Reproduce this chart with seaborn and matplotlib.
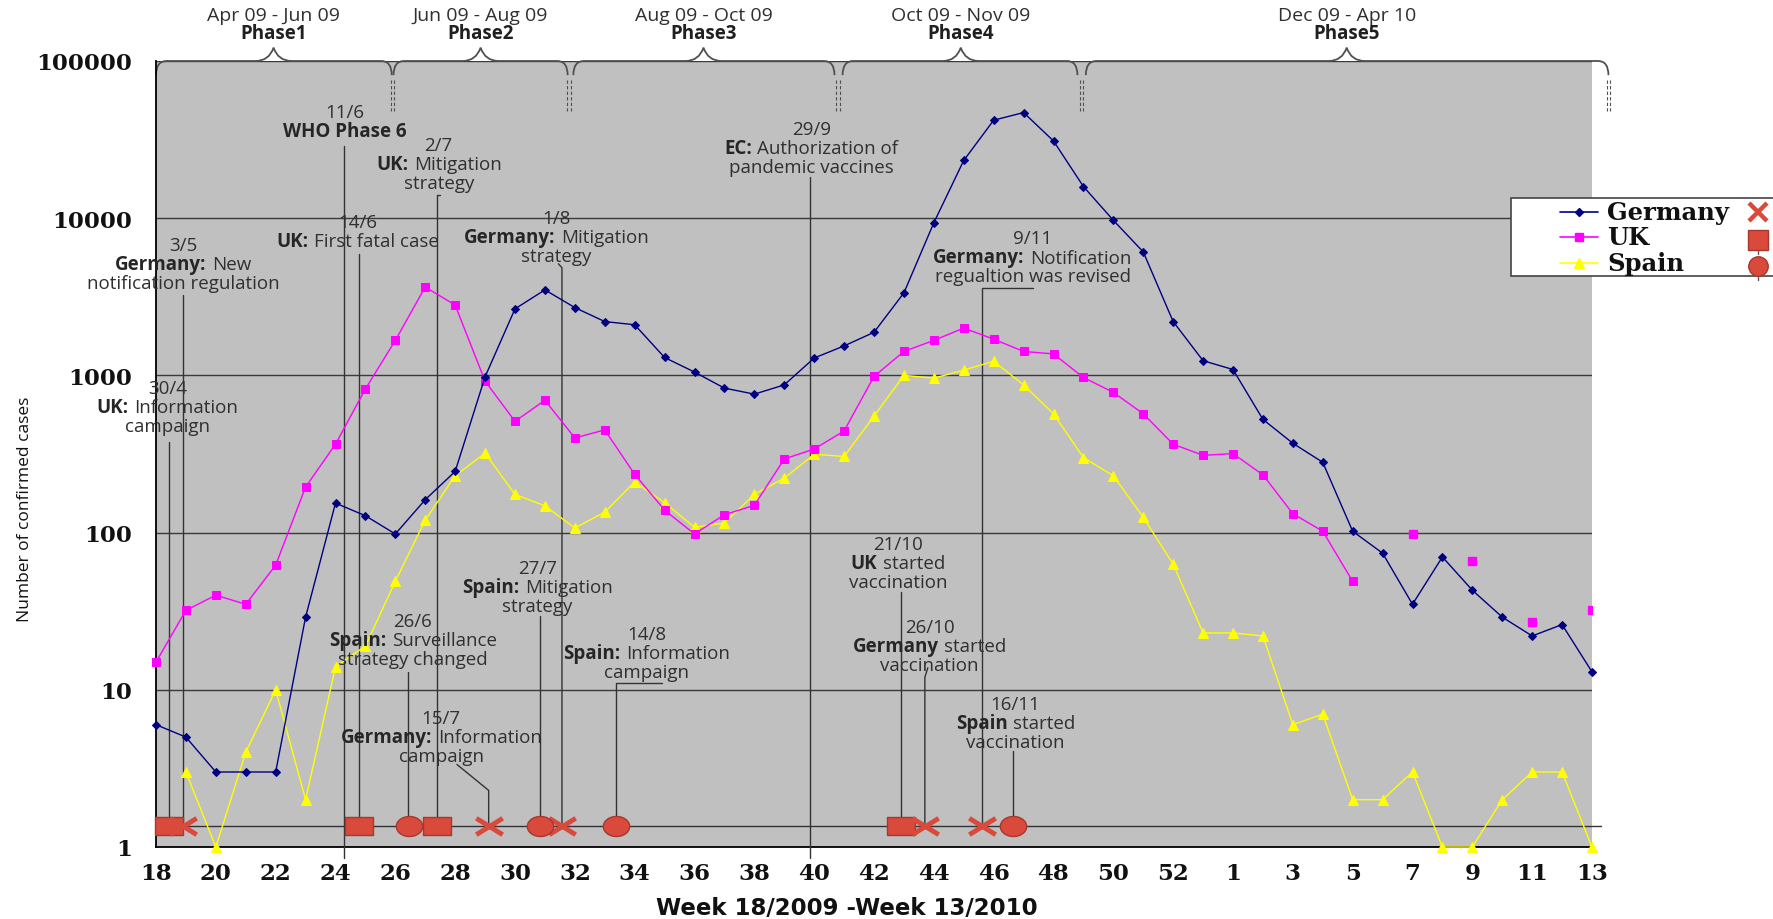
import numpy as np
import pandas as pd
import matplotlib
matplotlib.use("Agg")
import matplotlib.pyplot as plt
import seaborn as sns
from matplotlib.path import Path
from matplotlib.patches import PathPatch, Rectangle
from matplotlib.lines import Line2D
from matplotlib.font_manager import FontProperties
from matplotlib.offsetbox import TextArea, HPacker, VPacker, AnnotationBbox

# weekly confirmed cases, week 18/2009 .. week 13/2010 (2009 has 53 weeks)
weeks = list(range(18, 54)) + list(range(1, 14))
germany = [6, 5, 3, 3, 3, 29, 154, 128, 98, 162, 245, 980, 2650, 3500, 2700,
           2200, 2100, 1300, 1050, 830, 760, 870, 1290, 1540, 1880, 3350, 9350,
           23300, 42000, 47000, 31000, 15900, 9700, 6100, 2200, 1240,
           1090, 525, 370, 280, 102, 74, 35, 70, 43, 29, 22, 26, 13]
uk = [15, 32, 40, 35, 62, 195, 365, 820, 1670, 3650, 2800, 920, 510, 695, 400,
      450, 235, 139, 98, 130, 149, 294, 340, 443, 985, 1420, 1670, 2000, 1700,
      1420, 1370, 970, 780, 570, 365, 310,
      318, 233, 132, 102, 49, np.nan, 98, np.nan, 66, np.nan, 27, np.nan, 32]
spain = [np.nan, 3, 1, 4, 10, 2, 14, 19, 49, 120, 230, 320, 175, 148, 107, 135,
         210, 155, 108, 115, 175, 222, 315, 305, 550, 1000, 960, 1080, 1230, 870,
         570, 300, 230, 125, 63, 23,
         23, 22, 6, 7, 2, 2, 3, 1, 1, 2, 3, 3, 1]

# phases
phase_names = ["Phase1", "Phase2", "Phase3", "Phase4", "Phase5"]
phase_dates = ["Apr 09 - Jun 09", "Jun 09 - Aug 09", "Aug 09 - Oct 09",
               "Oct 09 - Nov 09", "Dec 09 - Apr 10"]
phase_start = [0.0, 7.94, 13.95, 22.95, 31.08]
phase_end = [7.88, 13.76, 22.68, 30.8, 48.55]
phase_mid = [3.93, 10.85, 18.3, 26.9, 39.8]
phase_cuts = [7.9, 13.8, 22.8, 30.93, 48.55]

# events (x as position on the week axis)
ev_text = [
    ["30/4", "**UK:** Information", "campaign"],
    ["3/5", "**Germany:** New", "notification regulation"],
    ["11/6", "**WHO Phase 6**"],
    ["14/6", "**UK:** First fatal case"],
    ["2/7", "**UK:** Mitigation", "strategy"],
    ["1/8", "**Germany:** Mitigation", "strategy"],
    ["29/9", "**EC:** Authorization of", "pandemic vaccines"],
    ["9/11", "**Germany:** Notification", "regualtion was revised"],
    ["27/7", "**Spain:** Mitigation", "strategy"],
    ["26/6", "**Spain:** Surveillance", "strategy changed"],
    ["14/8", "**Spain:** Information", "campaign"],
    ["15/7", "**Germany:** Information", "campaign"],
    ["21/10", "**UK** started", "vaccination"],
    ["26/10", "**Germany** started", "vaccination"],
    ["16/11", "**Spain** started", "vaccination"],
]
ev_country = ["UK", "Germany", None, "UK", "UK", "Germany", None, "Germany",
              "Spain", "Spain", "Spain", "Germany", "UK", "Germany", "Spain"]
ev_x = [0.45, 0.9, 6.3, 6.8, 9.38, 13.57, 21.85, 27.6, 12.85, 8.47, 15.39,
        11.12, 24.9, 25.7, 28.66]

# layout of the callouts (x in week positions, y in axes fraction)
txt_x = [0.38, 0.9, 6.3, 6.73, 9.45, 13.38, 21.9, 29.3, 12.74, 8.58, 16.4,
         9.53, 24.8, 25.86, 28.73]
txt_y = [0.560, 0.742, 0.922, 0.783, 0.869, 0.776, 0.889, 0.750, 0.331, 0.263,
         0.247, 0.140, 0.361, 0.256, 0.158]
ROW = 0.027
leaders = [
    [(0.45, 0.515), (0.45, ROW)],
    [(0.9, 0.702), (0.9, ROW)],
    [(6.3, 0.892), (6.3, -0.014)],
    [(6.8, 0.754), (6.8, ROW)],
    [(9.5, 0.830), (9.38, 0.830), (9.38, ROW)],
    [(13.45, 0.742), (13.57, 0.737), (13.57, ROW)],
    [(21.85, 0.852), (21.85, -0.014)],
    [(29.3, 0.711), (27.6, 0.711), (27.6, ROW)],
    [(12.85, 0.294), (12.85, ROW)],
    [(8.43, 0.223), (8.43, ROW)],
    [(16.9, 0.209), (15.39, 0.209), (15.39, ROW)],
    [(10.06, 0.105), (11.12, 0.072), (11.12, ROW)],
    [(24.9, 0.324), (24.9, ROW)],
    [(25.8, 0.228), (25.7, 0.216), (25.7, ROW)],
    [(28.66, 0.122), (28.66, ROW)],
]

colors = {"Germany": "#000080", "UK": "#FF00FF", "Spain": "#FFFF00"}
markers = {"Germany": "D", "UK": "s", "Spain": "^"}
msizes = {"Germany": 4.5, "UK": 5.5, "Spain": 6.5}
RED = "#D94A3D"
RED_EDGE = "#A8372C"

# wide event markers
M, L, C = Path.MOVETO, Path.LINETO, Path.CLOSEPOLY
box_marker = Path([(-1, -0.68), (1, -0.68), (1, 0.68), (-1, 0.68), (-1, -0.68)],
                  [M, L, L, L, C])
t = np.linspace(0, 2 * np.pi, 40)
oval_marker = Path(np.column_stack([np.cos(t), 0.76 * np.sin(t)]))
cross_marker = Path([(-1, -0.62), (1, 0.62), (-1, 0.62), (1, -0.62)], [M, L, M, L])
ev_marker = {"Germany": cross_marker, "UK": box_marker, "Spain": oval_marker}

sns.set_style("white")
plt.rcParams["font.family"] = ["Open Sans", "DejaVu Sans"]

fig = plt.figure(figsize=(17.73, 9.2), dpi=100)
ax = fig.add_axes([156 / 1773, 72 / 920, 1436 / 1773, 786 / 920])
ax.set_facecolor("#C0C0C0")

pos = np.arange(len(weeks))
df = pd.DataFrame({"pos": pos, "Germany": germany, "UK": uk, "Spain": spain})

for country in ["Spain", "UK", "Germany"]:
    s = df[["pos", country]].dropna()
    # split into runs of consecutive weeks, single points get no line
    run_id = (s["pos"].diff() != 1).cumsum()
    for _, run in s.groupby(run_id):
        if len(run) > 1:
            sns.lineplot(data=run, x="pos", y=country, ax=ax, color=colors[country],
                         marker=markers[country], markersize=msizes[country],
                         markeredgecolor=colors[country], linewidth=1.0,
                         estimator=None, clip_on=False, zorder=4)
        else:
            ax.plot(run["pos"], run[country], ls="", marker=markers[country],
                    markersize=msizes[country], color=colors[country], zorder=4)

ax.set_yscale("log")
ax.set_ylim(1, 1e5)
ax.set_xlim(0, 48)
ax.yaxis.set_minor_locator(matplotlib.ticker.NullLocator())
ax.set_yticks([1, 10, 100, 1000, 10000, 100000])
ax.set_yticklabels(["1", "10", "100", "1000", "10000", "100000"])
ax.set_xticks(pos)
ax.set_xticklabels([str(w) if i % 2 == 0 else "" for i, w in enumerate(weeks)])
tick_font = FontProperties(family="DejaVu Serif", weight="bold", size=16.5)
for lab in ax.get_xticklabels() + ax.get_yticklabels():
    lab.set_fontproperties(tick_font)
    lab.set_color("#111111")
ax.tick_params(axis="x", length=6, width=1.2, color="black", pad=5, direction="out")
ax.tick_params(axis="y", length=8, width=1.2, color="black", pad=9, direction="out")
ax.yaxis.grid(True, color="#3a3a3a", lw=1.0)
ax.xaxis.grid(False)
ax.set_xlabel("")
ax.set_ylabel("")
for sp in ["top", "right"]:
    ax.spines[sp].set_visible(False)
for sp in ["left", "bottom"]:
    ax.spines[sp].set_color("black")
    ax.spines[sp].set_linewidth(1.3)

tr = ax.get_xaxis_transform()

# event row and leaders
ax.plot([0, 48.3], [ROW, ROW], transform=tr, color="#333333", lw=1.0,
        clip_on=False, zorder=3)
for pts in leaders:
    xs, ys = zip(*pts)
    ax.plot(xs, ys, transform=tr, color="#333333", lw=1.0, clip_on=False, zorder=3)

for x, c in zip(ev_x, ev_country):
    if c is None:
        continue
    if c == "Germany":
        ax.plot([x], [ROW], transform=tr, marker=ev_marker[c], markersize=19,
                mew=3.5, markeredgecolor=RED, markerfacecolor="none", ls="",
                zorder=6, clip_on=False)
    else:
        ax.plot([x], [ROW], transform=tr, marker=ev_marker[c],
                markersize=20 if c == "UK" else 19,
                markerfacecolor=RED, markeredgecolor=RED_EDGE, mew=1.0, ls="",
                zorder=6, clip_on=False)

ANN = dict(fontsize=13.5, color="#303030", family="Open Sans")


def text_line(line):
    kids = []
    if line.startswith("**"):
        end = line.index("**", 2)
        bold, rest = line[2:end], line[end + 2:].strip()
        kids.append(TextArea(bold, textprops=dict(ANN, fontweight="bold",
                                                   color="#262626")))
        if rest:
            kids.append(TextArea(rest, textprops=ANN))
    else:
        kids.append(TextArea(line, textprops=ANN))
    return HPacker(children=kids, align="baseline", pad=0, sep=4)


for lines, x, y in zip(ev_text, txt_x, txt_y):
    box = VPacker(children=[text_line(l) for l in lines], align="center", pad=0,
                  sep=0)
    ab = AnnotationBbox(box, (x, y), xycoords=tr, frameon=False,
                        box_alignment=(0.5, 0.5), pad=0, annotation_clip=False,
                        zorder=5)
    ax.add_artist(ab)


# phase braces
def brace(x0, x1, xm):
    y0, yt, yp, r = 0.982, 1.0, 1.017, 0.35
    verts = [(x0, y0), (x0, yt), (x0 + r, yt), (xm - 0.6, yt), (xm - 0.15, yt),
             (xm, yp), (xm + 0.15, yt), (xm + 0.6, yt), (x1 - r, yt), (x1, yt),
             (x1, y0)]
    codes = [M, Path.CURVE3, Path.CURVE3, L, Path.CURVE3, Path.CURVE3,
             Path.CURVE3, Path.CURVE3, L, Path.CURVE3, Path.CURVE3]
    patch = PathPatch(Path(verts, codes), transform=tr, fill=False,
                      edgecolor="#505050", lw=1.3, clip_on=False)
    ax.add_patch(patch)


for name, dates, x0, x1, xm in zip(phase_names, phase_dates, phase_start,
                                   phase_end, phase_mid):
    brace(x0, x1, xm)
    ax.text(xm, 1.058, dates, transform=tr, ha="center", va="center",
            fontsize=14, color="#303030")
    ax.text(xm, 1.035, name, transform=tr, ha="center", va="center",
            fontsize=13.5, color="#202020", fontweight="bold")

for xc in phase_cuts:
    for dx in (-0.06, 0.06):
        ax.plot([xc + dx, xc + dx], [0.976, 0.936], transform=tr, color="#505050",
                lw=0.8, ls=(0, (3, 2)), clip_on=False)

# legend, drawn by hand so the right column of event markers fits the reference
fig.patches.append(Rectangle((0.8522, 0.699), 0.16, 0.0847, transform=fig.transFigure,
                             facecolor="white", edgecolor="#444444", lw=1.2,
                             zorder=10))
leg_font = FontProperties(family="DejaVu Serif", weight="bold", size=17.5)
rows_y = [0.7685, 0.7413, 0.713]
for c, yy in zip(["Germany", "UK", "Spain"], rows_y):
    fig.lines.append(Line2D([0.8799, 0.9013], [yy, yy], transform=fig.transFigure,
                            color=colors[c], lw=1.2, zorder=11))
    fig.lines.append(Line2D([0.8906], [yy], transform=fig.transFigure, ls="",
                            marker=markers[c], markersize=msizes[c],
                            color=colors[c], zorder=11))
    fig.text(0.9064, yy, c, ha="left", va="center", fontproperties=leg_font,
             color="#111111", zorder=12)
    if c == "Germany":
        fig.lines.append(Line2D([0.9915], [yy], transform=fig.transFigure, ls="",
                                marker="x", markersize=13, mew=3.2, color=RED,
                                zorder=11))
    else:
        fig.lines.append(Line2D([0.9915, 0.9915], [yy - 0.006, yy - 0.018],
                                transform=fig.transFigure, color="#555555",
                                lw=1.0, zorder=11))
        fig.lines.append(Line2D([0.9915], [yy - 0.003], transform=fig.transFigure,
                                ls="", marker="s" if c == "UK" else "o",
                                markersize=14, markerfacecolor=RED,
                                markeredgecolor=RED_EDGE, zorder=12))

fig.text(25 / 1773, 1 - 509 / 920, "Number of confirmed cases", rotation=90,
         ha="center", va="center", fontsize=12.5, color="#111111")
fig.text(847 / 1773, 1 - 909 / 920, "Week 18/2009 -Week 13/2010", ha="center",
         va="center", fontsize=16.5, fontweight="bold", color="#111111",
         family="DejaVu Sans")

fig.savefig("out.png", dpi=100, facecolor="white")
